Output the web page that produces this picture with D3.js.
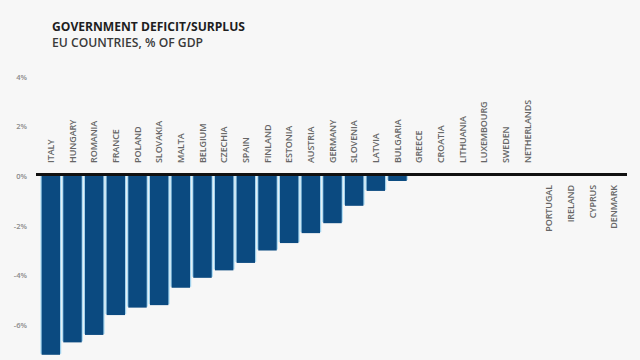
<!DOCTYPE html>
<html><head><meta charset="utf-8">
<script src="https://cdn.jsdelivr.net/npm/d3@7"></script>
<style>
html,body{margin:0;padding:0;background:#f7f7f7;}
svg{display:block;font-family:"Open Sans",sans-serif;}
</style></head>
<body><svg id="c" width="640" height="360"></svg>
<script>
const countries = ["ITALY","HUNGARY","ROMANIA","FRANCE","POLAND","SLOVAKIA","MALTA","BELGIUM","CZECHIA","SPAIN","FINLAND","ESTONIA","AUSTRIA","GERMANY","SLOVENIA","LATVIA","BULGARIA","GREECE","CROATIA","LITHUANIA","LUXEMBOURG","SWEDEN","NETHERLANDS","PORTUGAL","IRELAND","CYPRUS","DENMARK"];
// visible bar values (% of GDP) in this frame
const values = [-7.2,-6.7,-6.4,-5.6,-5.3,-5.2,-4.5,-4.1,-3.8,-3.5,-3.0,-2.7,-2.3,-1.9,-1.2,-0.6,-0.2,0,0,0,0,0,0,0,0,0,0];
// deficit countries are labelled above the axis, surplus countries below
const balance = ["deficit","deficit","deficit","deficit","deficit","deficit","deficit","deficit","deficit","deficit","deficit","deficit","deficit","deficit","deficit","deficit","deficit","deficit","deficit","deficit","deficit","deficit","deficit","surplus","surplus","surplus","surplus"];
const yTicks = [-6,-4,-2,0,2,4];
const title = "GOVERNMENT DEFICIT/SURPLUS";
const subtitle = "EU COUNTRIES, % OF GDP";

const svg = d3.select("#c");
svg.append("rect").attr("width",640).attr("height",360).attr("fill","#f7f7f7");

const x = d3.scaleBand().domain(countries).range([40,625]).paddingInner(0.15).paddingOuter(0.075);
const y = d3.scaleLinear().domain([-6,4]).range([325,76.7]);

svg.append("text").attr("x",52).attr("y",30.8).text(title)
  .attr("font-size",12).attr("font-weight",700).attr("fill","#1e1e1e")
  .attr("textLength",193).attr("lengthAdjust","spacingAndGlyphs");
svg.append("text").attr("x",52).attr("y",46.7).text(subtitle)
  .attr("font-size",12).attr("font-weight",600).attr("fill","#3a3a3a")
  .attr("textLength",151).attr("lengthAdjust","spacingAndGlyphs");

const yAxis = d3.axisLeft(y).tickValues(yTicks).tickSize(0).tickPadding(0).tickFormat(d=>d+"%");
const ga = svg.append("g").attr("transform","translate(27,0)").call(yAxis);
ga.select(".domain").remove();
ga.selectAll("text").attr("font-size",7.5).attr("font-weight",600).attr("fill","#8a8a8a").attr("font-family","'Open Sans',sans-serif");

const data = countries.map((c,i)=>({c, v:values[i], b:balance[i]}));

// light outline behind bars
svg.append("g").selectAll("rect").data(data.filter(d=>d.v!==0)).join("rect")
  .attr("x",d=>x(d.c)-1.2).attr("width",x.bandwidth()+2.4)
  .attr("y",d=>Math.min(y(0),y(d.v))).attr("height",d=>Math.max(0,Math.abs(y(d.v)-y(0))-1))
  .attr("fill","#a9d9f2");
svg.append("g").selectAll("rect").data(data.filter(d=>d.v!==0)).join("rect")
  .attr("x",d=>x(d.c)).attr("width",x.bandwidth())
  .attr("y",d=>Math.min(y(0),y(d.v))).attr("height",d=>Math.abs(y(d.v)-y(0)))
  .attr("fill","#0b4a80");

svg.append("line").attr("x1",36).attr("x2",627).attr("y1",y(0)-1.5).attr("y2",y(0)-1.5)
  .attr("stroke","#111").attr("stroke-width",3);

svg.append("g").selectAll("text").data(data).join("text")
  .attr("transform",d=>{
    const cx = x(d.c)+x.bandwidth()/2+3;
    return d.b==="deficit" ? `translate(${cx},163) rotate(-90)` : `translate(${cx},185) rotate(-90)`;
  })
  .attr("text-anchor",d=>d.b==="deficit"?"start":"end")
  .attr("font-size",9).attr("font-weight",600).attr("fill","#666")
  .attr("letter-spacing",-0.1)
  .text(d=>d.c);
</script></body></html>
